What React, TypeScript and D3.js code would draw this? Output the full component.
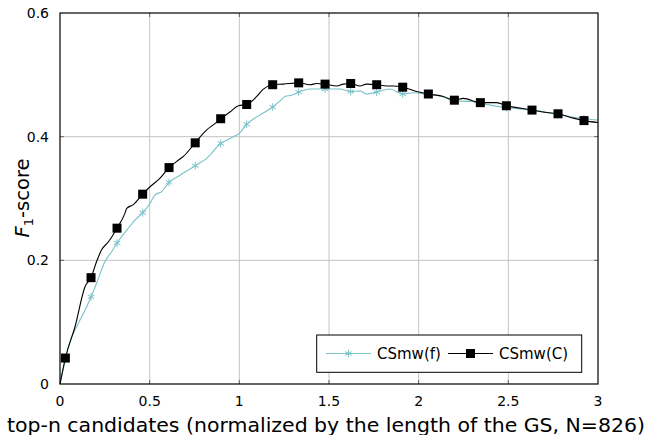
import React from "react";
import * as d3 from "d3";

// ---- data ----
const xTicks = [0, 0.5, 1, 1.5, 2, 2.5, 3];
const xTickLabels = ["0", "0.5", "1", "1.5", "2", "2.5", "3"];
const yTicks = [0, 0.2, 0.4, 0.6];
const yTickLabels = ["0", "0.2", "0.4", "0.6"];

const markerX = [0.030, 0.173, 0.318, 0.461, 0.608, 0.754, 0.896, 1.041, 1.186, 1.331, 1.478, 1.621, 1.766, 1.911, 2.054, 2.199, 2.344, 2.489, 2.632, 2.777, 2.922];
const cMarkerY = [0.042, 0.172, 0.252, 0.307, 0.350, 0.390, 0.429, 0.452, 0.484, 0.487, 0.485, 0.486, 0.484, 0.480, 0.469, 0.459, 0.455, 0.450, 0.443, 0.437, 0.426];
const fMarkerY = [0.040, 0.141, 0.228, 0.277, 0.326, 0.353, 0.389, 0.420, 0.448, 0.472, 0.477, 0.473, 0.472, 0.469, 0.468, 0.458, 0.454, 0.447, 0.443, 0.436, 0.429];

const cLineX = [0, 0.084, 0.139, 0.204, 0.232, 0.270, 0.362, 0.372, 0.409, 0.502, 0.558, 0.651, 0.688, 0.818, 0.855, 0.948, 0.994, 1.097, 1.134, 1.245, 1.394, 1.431, 1.543, 1.580, 1.673, 1.710, 1.822, 1.859, 1.989, 2.138, 2.249, 2.435, 2.547, 2.714, 2.862, 3.0];
const cLineY = [0, 0.093, 0.157, 0.198, 0.217, 0.230, 0.276, 0.284, 0.290, 0.319, 0.333, 0.360, 0.368, 0.411, 0.419, 0.440, 0.450, 0.465, 0.477, 0.485, 0.484, 0.486, 0.482, 0.485, 0.482, 0.485, 0.482, 0.482, 0.473, 0.465, 0.462, 0.455, 0.447, 0.439, 0.430, 0.423];

const fLineX = [0, 0.046, 0.102, 0.149, 0.204, 0.251, 0.288, 0.381, 0.418, 0.502, 0.530, 0.567, 0.660, 0.818, 0.948, 0.966, 0.994, 1.097, 1.143, 1.227, 1.255, 1.292, 1.394, 1.450, 1.561, 1.673, 1.710, 1.840, 1.970, 2.119, 2.287, 3.0];
const fLineY = [0, 0.060, 0.098, 0.125, 0.163, 0.198, 0.214, 0.252, 0.265, 0.292, 0.306, 0.311, 0.336, 0.365, 0.397, 0.400, 0.404, 0.432, 0.440, 0.458, 0.465, 0.467, 0.477, 0.477, 0.477, 0.474, 0.469, 0.477, 0.471, 0.466, 0.457, 0.427];

const seriesNames = ["CSmw(f)", "CSmw(C)"];
const xLabel = "top-n candidates (normalized by the length of the GS, N=826)";

const CYAN = "#78c2c8";
const FONT = "DejaVu Sans, sans-serif";

function merge(lx: number[], ly: number[], mx: number[], my: number[]) {
  const pts = lx.map((x, i) => [x, ly[i]] as [number, number]).concat(mx.map((x, i) => [x, my[i]] as [number, number]));
  pts.sort((a, b) => a[0] - b[0]);
  return pts;
}

function Star({ cx, cy, r }: { cx: number; cy: number; r: number }) {
  const angles = [90, 30, 150];
  return (
    <g stroke={CYAN} strokeWidth={1}>
      {angles.map((a) => {
        const dx = r * Math.cos((a * Math.PI) / 180);
        const dy = r * Math.sin((a * Math.PI) / 180);
        return <line key={a} x1={cx - dx} y1={cy - dy} x2={cx + dx} y2={cy + dy} />;
      })}
    </g>
  );
}

export default function App() {
  const W = 652, H = 435;
  const x = d3.scaleLinear().domain([0, 3]).range([60, 598]);
  const y = d3.scaleLinear().domain([0, 0.6]).range([384, 13]);
  const line = d3
    .line<[number, number]>()
    .x((d) => x(d[0]))
    .y((d) => y(d[1]))
    .curve(d3.curveMonotoneX);
  const cPts = merge(cLineX, cLineY, markerX, cMarkerY);
  const fPts = merge(fLineX, fLineY, markerX, fMarkerY);
  const [x0, x1] = x.range();
  const [y0, y1] = y.range();
  const sq = 9;

  return (
    <svg width={W} height={H} style={{ position: "absolute", left: 0, top: 0 }} fontFamily={FONT}>
      <rect width={W} height={H} fill="#fff" />
      {/* grid */}
      {xTicks.slice(1, -1).map((t) => (
        <line key={"gx" + t} x1={x(t)} x2={x(t)} y1={y1} y2={y0} stroke="#c4c4c4" strokeWidth={1} />
      ))}
      {yTicks.slice(1, -1).map((t) => (
        <line key={"gy" + t} x1={x0} x2={x1} y1={y(t)} y2={y(t)} stroke="#c4c4c4" strokeWidth={1} />
      ))}
      {/* inner ticks */}
      {xTicks.slice(1, -1).map((t) => (
        <g key={"tx" + t} stroke="#666" strokeWidth={1}>
          <line x1={x(t)} x2={x(t)} y1={y0} y2={y0 - 4} />
          <line x1={x(t)} x2={x(t)} y1={y1} y2={y1 + 4} />
        </g>
      ))}
      {yTicks.slice(1, -1).map((t) => (
        <g key={"ty" + t} stroke="#666" strokeWidth={1}>
          <line x1={x0} x2={x0 + 4} y1={y(t)} y2={y(t)} />
          <line x1={x1} x2={x1 - 4} y1={y(t)} y2={y(t)} />
        </g>
      ))}
      {/* lines */}
      <path d={line(fPts) || ""} fill="none" stroke={CYAN} strokeWidth={1.1} />
      <path d={line(cPts) || ""} fill="none" stroke="#000" strokeWidth={1.1} />
      {markerX.map((mx, i) => (
        <Star key={"s" + i} cx={x(mx)} cy={y(fMarkerY[i])} r={3.8} />
      ))}
      {markerX.map((mx, i) => (
        <rect key={"q" + i} x={x(mx) - sq / 2} y={y(cMarkerY[i]) - sq / 2} width={sq} height={sq} fill="#000" />
      ))}
      {/* frame */}
      <rect x={x0} y={y1} width={x1 - x0} height={y0 - y1} fill="none" stroke="#000" strokeWidth={1.2} />
      {/* tick labels */}
      {xTicks.map((t, i) => (
        <text key={"xl" + t} x={x(t)} y={401} textAnchor="middle" dominantBaseline="central" fontSize={14}>
          {xTickLabels[i]}
        </text>
      ))}
      {yTicks.map((t, i) => (
        <text key={"yl" + t} x={49} y={y(t)} textAnchor="end" dominantBaseline="central" fontSize={14}>
          {yTickLabels[i]}
        </text>
      ))}
      {/* axis labels */}
      <text x={326} y={425} textAnchor="middle" dominantBaseline="central" fontSize={19.6}
        textLength={638} lengthAdjust="spacingAndGlyphs">
        {xLabel}
      </text>
      <text transform="translate(29,198) rotate(-90)" textAnchor="middle" fontSize={19.5}>
        <tspan fontStyle="italic">F</tspan>
        <tspan dy={4} fontSize={13}>1</tspan>
        <tspan dy={-4}>-score</tspan>
      </text>
      {/* legend */}
      <rect x={316.7} y={335} width={265} height={37.3} fill="#fff" stroke="#000" strokeWidth={1} />
      <line x1={326} x2={371} y1={353.5} y2={353.5} stroke={CYAN} strokeWidth={1.1} />
      <Star cx={348.5} cy={353.5} r={3.8} />
      <text x={377} y={353.5} dominantBaseline="central" fontSize={15}>{seriesNames[0]}</text>
      <line x1={448} x2={493} y1={353.5} y2={353.5} stroke="#000" strokeWidth={1.1} />
      <rect x={470.5 - sq / 2} y={353.5 - sq / 2} width={sq} height={sq} fill="#000" />
      <text x={499} y={353.5} dominantBaseline="central" fontSize={15}>{seriesNames[1]}</text>
    </svg>
  );
}
